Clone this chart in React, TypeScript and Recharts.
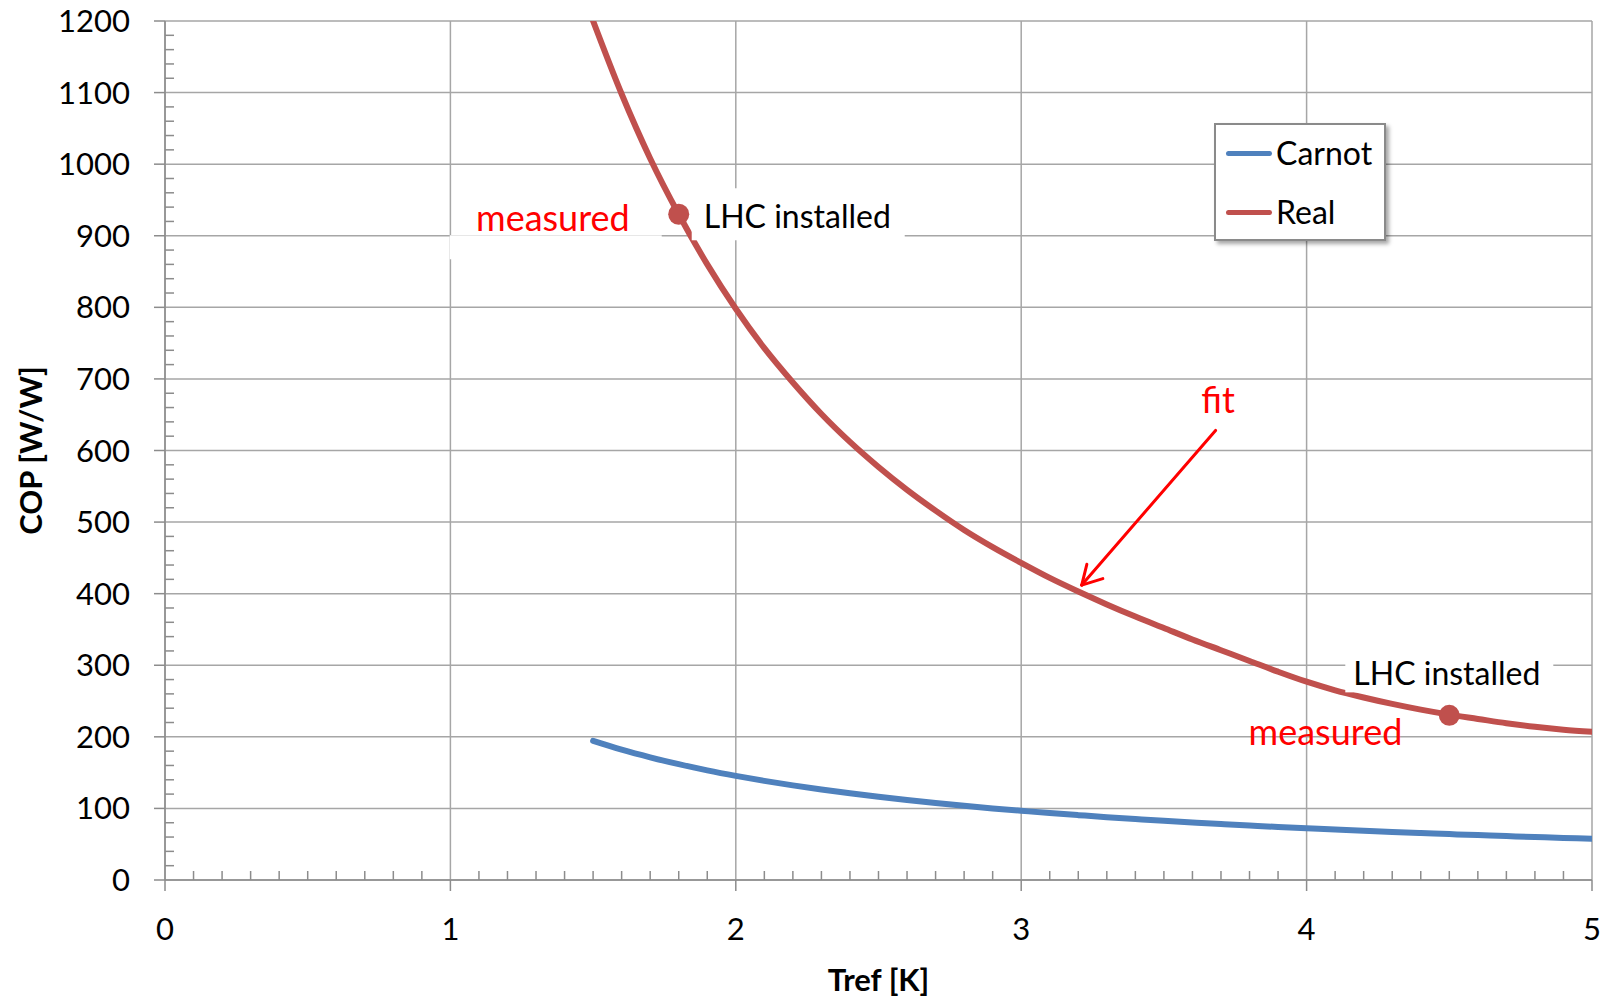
import React from "react";
import {
  ComposedChart,
  Line,
  Scatter,
  XAxis,
  YAxis,
  CartesianGrid,
  Legend,
  ReferenceLine,
  ReferenceDot,
} from "recharts";

const FONT = "Lato, 'Open Sans', sans-serif";

// reference temperature [K] for the curves
const T_VALUES = [
  1.5, 1.6, 1.7, 1.8, 1.9, 2.0, 2.1, 2.2, 2.3, 2.4, 2.5, 2.6, 2.7, 2.8, 2.9, 3.0, 3.1, 3.2,
  3.3, 3.4, 3.5, 3.6, 3.7, 3.8, 3.9, 4.0, 4.1, 4.2, 4.3, 4.4, 4.5, 4.6, 4.7, 4.8, 4.9, 5.0,
];

const CARNOT_COP = [
  194.3, 182.1, 171.4, 161.8, 153.2, 145.5, 138.5, 132.2, 126.4, 121.1, 116.2, 111.7, 107.5,
  103.6, 100.0, 96.7, 93.5, 90.6, 87.8, 85.2, 82.7, 80.4, 78.2, 76.1, 74.1, 72.3, 70.5, 68.8,
  67.1, 65.6, 64.1, 62.7, 61.3, 60.0, 58.8, 57.6,
];

const REAL_COP = [
  1200, 1098, 1008, 930, 860, 798, 743, 695, 651, 612, 577, 545, 516, 489, 465, 443, 422, 403,
  385, 368, 352, 336, 321, 306, 291, 277, 265, 255, 246, 238, 231, 225, 219, 214, 210, 207,
];

// measured points (LHC installed)
const MEASURED_T = [1.8, 4.5];
const MEASURED_COP = [930, 230];

const X_TICKS = [0, 1, 2, 3, 4, 5];
const Y_TICKS = [0, 100, 200, 300, 400, 500, 600, 700, 800, 900, 1000, 1100, 1200];
const X_MINOR = Array.from({ length: 51 }, (_, i) => i / 10);
const Y_MINOR = Array.from({ length: 61 }, (_, i) => i * 20);

const SERIES = [
  { name: "Carnot", color: "#4f81bd", values: CARNOT_COP },
  { name: "Real", color: "#c0504d", values: REAL_COP },
];

const GRID = "#a6a6a6";
const AXIS = "#8c8c8c";
const NOTE_RED = "#ff0000";

const rowsOf = (values: number[]) => T_VALUES.map((t, i) => ({ t, cop: values[i] }));
const measuredRows = MEASURED_T.map((t, i) => ({ t, cop: MEASURED_COP[i] }));

const isMajor = (list: number[], v: number) => list.some((t) => Math.abs(t - v) < 1e-6);

// bottom axis: major ticks point out with a label, minor ticks point in
const XTick = (props: any) => {
  const { x, y, payload } = props;
  const v = payload.value;
  if (!isMajor(X_TICKS, v)) {
    return <line x1={x} x2={x} y1={y} y2={y - 9} stroke={AXIS} strokeWidth={1.5} />;
  }
  return (
    <g>
      <line x1={x} x2={x} y1={y} y2={y + 11} stroke={AXIS} strokeWidth={1.5} />
      <text x={x} y={y + 38} dy="0.71em" textAnchor="middle" fontSize={31} fill="#000" style={{ fontFamily: FONT }}>
        {Math.round(v)}
      </text>
    </g>
  );
};

const YTick = (props: any) => {
  const { x, y, payload } = props;
  const v = payload.value;
  if (!isMajor(Y_TICKS, v)) {
    return <line x1={x} x2={x + 9} y1={y} y2={y} stroke={AXIS} strokeWidth={1.5} />;
  }
  return (
    <g>
      <line x1={x - 11} x2={x} y1={y} y2={y} stroke={AXIS} strokeWidth={1.5} />
      <text x={x - 35} y={y} dy="0.355em" textAnchor="end" fontSize={31} fill="#000" style={{ fontFamily: FONT }}>
        {v}
      </text>
    </g>
  );
};

const LegendBox = ({ payload }: any) => (
  <div
    style={{
      position: "relative",
      width: 172,
      height: 118,
      boxSizing: "border-box",
      border: "2px solid #8a8a8a",
      background: "#fff",
      boxShadow: "3px 3px 4px rgba(0,0,0,0.35)",
      fontFamily: FONT,
    }}
  >
    {(payload || [])
      .filter((p: any) => p.type !== "none")
      .map((p: any, i: number) => (
        <div
          key={p.value}
          style={{
            position: "absolute",
            left: 10,
            top: 8 + i * 59,
            height: 40,
            display: "flex",
            alignItems: "center",
          }}
        >
          <span
            style={{ display: "inline-block", width: 46, height: 5, borderRadius: 3, background: p.color }}
          />
          <span style={{ marginLeft: 4, fontSize: 32, lineHeight: "40px", color: "#000" }}>{p.value}</span>
        </div>
      ))}
  </div>
);

const textStyle = { fontFamily: FONT };

export default function App() {
  return (
    <div style={{ position: "absolute", left: 0, top: 0, width: 1609, height: 999, background: "#fff" }}>
      <ComposedChart width={1609} height={999} margin={{ top: 21, right: 17, bottom: 0, left: 0 }}>
        <CartesianGrid stroke={GRID} strokeWidth={1.5} verticalValues={X_TICKS} horizontalValues={Y_TICKS} />
        <XAxis
          type="number"
          dataKey="t"
          domain={[0, 5]}
          ticks={X_MINOR}
          interval={0}
          allowDataOverflow
          height={119}
          tickSize={0}
          tickMargin={0}
          tickLine={false}
          stroke={AXIS}
          strokeWidth={1.5}
          tick={<XTick />}
          label={{
            content: (props: any) => {
              const vb = props.viewBox;
              return (
                <text
                  x={vb.x + vb.width / 2}
                  y={vb.y + vb.height - 8}
                  textAnchor="middle"
                  fontSize={31}
                  fontWeight={700}
                  fill="#000"
                  style={textStyle}
                >
                  Tref [K]
                </text>
              );
            },
          }}
        />
        <YAxis
          type="number"
          domain={[0, 1200]}
          ticks={Y_MINOR}
          interval={0}
          allowDataOverflow
          width={165}
          tickSize={0}
          tickMargin={0}
          tickLine={false}
          stroke={AXIS}
          strokeWidth={1.5}
          tick={<YTick />}
          label={{
            content: (props: any) => {
              const vb = props.viewBox;
              const x = vb.x + 42;
              const y = vb.y + vb.height / 2;
              return (
                <text
                  x={x}
                  y={y}
                  transform={`rotate(-90, ${x}, ${y})`}
                  textAnchor="middle"
                  fontSize={31}
                  fontWeight={700}
                  fill="#000"
                  style={textStyle}
                >
                  COP [W/W]
                </text>
              );
            },
          }}
        />

        {SERIES.map((s) => (
          <Line
            key={s.name}
            name={s.name}
            data={rowsOf(s.values)}
            dataKey="cop"
            type="monotone"
            stroke={s.color}
            strokeWidth={6}
            strokeLinecap="round"
            dot={false}
            activeDot={false}
            legendType="line"
            isAnimationActive={false}
          />
        ))}

        {/* fit arrow */}
        <ReferenceLine
          segment={[{ x: 3.681, y: 628 }, { x: 3.212, y: 412 }]}
          stroke={NOTE_RED}
          strokeWidth={3}
          strokeLinecap="round"
          ifOverflow="visible"
        />
        <ReferenceLine
          segment={[{ x: 3.212, y: 412 }, { x: 3.23, y: 441 }]}
          stroke={NOTE_RED}
          strokeWidth={3}
          strokeLinecap="round"
          ifOverflow="visible"
        />
        <ReferenceLine
          segment={[{ x: 3.212, y: 412 }, { x: 3.286, y: 421 }]}
          stroke={NOTE_RED}
          strokeWidth={3}
          strokeLinecap="round"
          ifOverflow="visible"
        />
        <ReferenceDot
          x={3.69}
          y={652}
          r={0}
          ifOverflow="visible"
          shape={(p: any) => (
            <text x={p.cx} y={p.cy} textAnchor="middle" fontSize={36} fill={NOTE_RED} style={textStyle}>
              fit
            </text>
          )}
        />

        {/* labels of the measured points */}
        <ReferenceDot
          x={MEASURED_T[0]}
          y={MEASURED_COP[0]}
          r={0}
          ifOverflow="visible"
          shape={(p: any) => (
            <g>
              <rect x={p.cx - 229} y={p.cy + 21} width={212} height={24} fill="#fff" />
              <rect x={p.cx + 13} y={p.cy - 26} width={213} height={52} fill="#fff" />
              <text x={p.cx + 25} y={p.cy + 14} fontSize={32} fill="#000" style={textStyle}>
                LHC installed
              </text>
              <text x={p.cx - 49} y={p.cy + 17} textAnchor="end" fontSize={36} fill={NOTE_RED} style={textStyle}>
                measured
              </text>
            </g>
          )}
        />
        <ReferenceDot
          x={MEASURED_T[1]}
          y={MEASURED_COP[1]}
          r={0}
          ifOverflow="visible"
          shape={(p: any) => (
            <g>
              <rect x={p.cx - 104} y={p.cy - 67} width={208} height={44} fill="#fff" />
              <text x={p.cx - 96} y={p.cy - 30} fontSize={32} fill="#000" style={textStyle}>
                LHC installed
              </text>
              <text x={p.cx - 47} y={p.cy + 30} textAnchor="end" fontSize={36} fill={NOTE_RED} style={textStyle}>
                measured
              </text>
            </g>
          )}
        />

        <Scatter
          name="measured"
          data={measuredRows}
          dataKey="cop"
          legendType="none"
          isAnimationActive={false}
          shape={(p: any) => <circle cx={p.cx} cy={p.cy} r={10.5} fill="#c0504d" />}
        />

        <Legend
          layout="vertical"
          align="center"
          verticalAlign="middle"
          width={172}
          height={118}
          wrapperStyle={{ left: 1214, top: 123, width: 172, height: 118 }}
          content={<LegendBox />}
        />
      </ComposedChart>
    </div>
  );
}
